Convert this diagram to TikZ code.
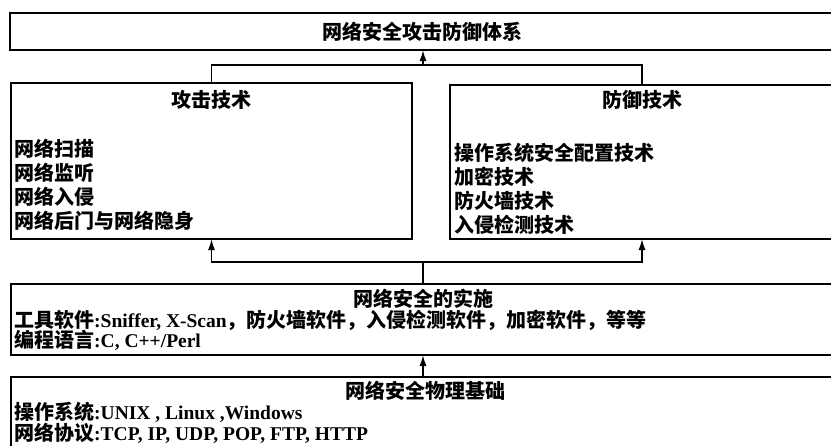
\documentclass[tikz,border=0pt]{standalone}
\usepackage{fontspec}
\setmainfont{Liberation Serif}
\newfontfamily\cjk{Noto Sans CJK SC}
\usetikzlibrary{arrows.meta}
\newcommand{\latn}[1]{{\rmfamily\bfseries\fontsize{19.5}{22}\selectfont #1}}
\begin{document}
\begin{tikzpicture}[x=1pt,y=-1pt,
  box/.style={draw, line width=1.5pt, inner sep=0pt, outer sep=0pt, anchor=north west},
  txt/.style={inner sep=0pt, anchor=base west, font=\cjk\bfseries\fontsize{20}{24}\selectfont},
  ttl/.style={inner sep=0pt, anchor=base, font=\cjk\bfseries\fontsize{20}{24}\selectfont},
  conn/.style={line width=1.5pt},
  arr/.style={line width=1.5pt, -{Latex[length=11pt,width=7pt]}}]
\useasboundingbox (0,0) rectangle (831,445);
% boxes
\node[box, minimum width=824pt, minimum height=37pt] (top) at (10,13) {};
\node[box, minimum width=401pt, minimum height=156pt] (atk) at (11,83) {};
\node[box, minimum width=384pt, minimum height=154pt] (def) at (450,85) {};
\node[box, minimum width=823pt, minimum height=71pt] (impl) at (11,284) {};
\node[box, minimum width=823pt, minimum height=72pt] (phys) at (11,377) {};
% texts
\node[ttl] (ttop) at (422,39.6) {网络安全攻击防御体系};
\node[ttl] (tatk) at (211.5,107.6) {攻击技术};
\node[ttl] (tdef) at (642,107.6) {防御技术};
\node[txt] (a1) at (14,156.6) {网络扫描};
\node[txt] (a2) at (14,180.6) {网络监听};
\node[txt] (a3) at (14,204.6) {网络入侵};
\node[txt] (a4) at (14,228.6) {网络后门与网络隐身};
\node[txt] (d1) at (454,160.6) {操作系统安全配置技术};
\node[txt] (d2) at (454,184.6) {加密技术};
\node[txt] (d3) at (454,208.6) {防火墙技术};
\node[txt] (d4) at (454,232.6) {入侵检测技术};
\node[ttl] (timpl) at (423,306) {网络安全的实施};
\node[txt] (i1) at (14,327) {工具软件\latn{:Sniffer, X-Scan}，防火墙软件，入侵检测软件，加密软件，等等};
\node[txt] (i2) at (14,347.5) {编程语言\latn{:C, C++/Perl}};
\node[ttl] (tphys) at (425,398.5) {网络安全物理基础};
\node[txt] (p1) at (14,419.5) {操作系统\latn{:UNIX , Linux ,Windows}};
\node[txt] (p2) at (14,440.5) {网络协议\latn{:TCP, IP, UDP, POP, FTP, HTTP}};
% connectors
\coordinate (jt) at (423,65);
\coordinate (jb) at (423,262);
\draw[arr] (jt) -- (jt |- top.south);
\draw[conn] (atk.north) |- (jt) -| (def.north);
\draw[arr] (jb) -| (atk.south);
\draw[arr] (jb) -| (def.south);
\draw[conn] (jb) -- (jb |- impl.north);
\draw[arr] (jb |- phys.north) -- (jb |- impl.south);
\end{tikzpicture}
\end{document}
